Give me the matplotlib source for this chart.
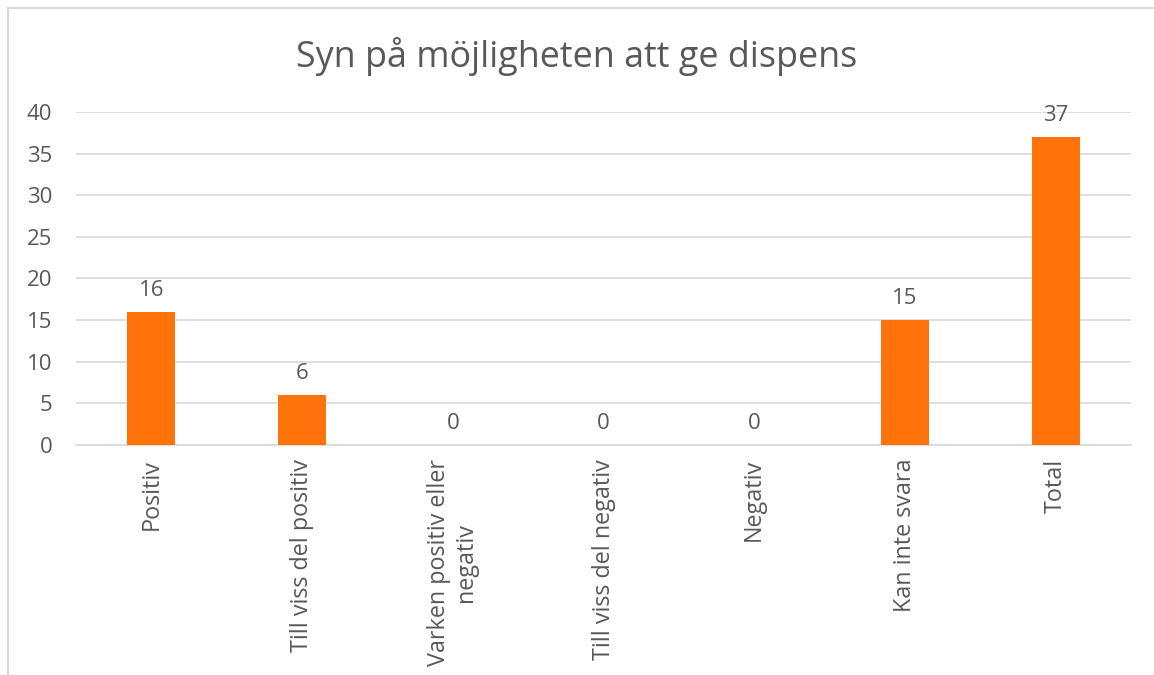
import matplotlib.pyplot as plt
from matplotlib.lines import Line2D

# data
kategorier = ['Positiv', 'Till viss del positiv', 'Varken positiv eller\nnegativ',
              'Till viss del negativ', 'Negativ', 'Kan inte svara', 'Total']
antal = [16, 6, 0, 0, 0, 15, 37]
y_ticks = [0, 5, 10, 15, 20, 25, 30, 35, 40]

plt.rcParams['font.family'] = ['Open Sans', 'DejaVu Sans']
textfarg = '#595959'

W, H = 1154, 675
fig = plt.figure(figsize=(W / 100, H / 100), dpi=100)
ax = fig.add_axes([76 / W, 1 - 445 / H, (1131 - 76) / W, (445 - 112) / H])

# ram: bara övre och vänstra kanten syns
fig.lines.append(Line2D([8 / W, 1.0], [1 - 8 / H, 1 - 8 / H], transform=fig.transFigure,
                        color='#D9D9D9', linewidth=1.5))
fig.lines.append(Line2D([8 / W, 8 / W], [1 - 8 / H, 1 / H], transform=fig.transFigure,
                        color='#D9D9D9', linewidth=1.5))

x = list(range(len(kategorier)))
ax.bar(x, antal, width=0.32, color='#FF730A', zorder=3)
for xi, v in zip(x, antal):
    ax.text(xi, v + 1.3, str(v), ha='center', va='bottom', fontsize=16, color=textfarg)

ax.set_xlim(-0.5, len(kategorier) - 0.5)
ax.set_ylim(0, 40)
ax.set_yticks(y_ticks)
ax.yaxis.grid(True, color='#D9D9D9', linewidth=1.2, zorder=0)
ax.tick_params(axis='y', length=0, labelsize=16, labelcolor=textfarg, pad=17)
ax.tick_params(axis='x', length=0, labelsize=16.8, labelcolor=textfarg, pad=10)
ax.set_xticks(x)
ax.set_xticklabels(kategorier, rotation=90, ha='center', va='top', multialignment='center',
                   linespacing=1.15)
for s in ['top', 'right', 'left']:
    ax.spines[s].set_visible(False)
ax.spines['bottom'].set_color('#D9D9D9')
ax.spines['bottom'].set_linewidth(1.2)

fig.text(0.5, 1 - 57 / H, 'Syn på möjligheten att ge dispens', ha='center', va='center',
         fontsize=25.8, color=textfarg)

fig.savefig('out.png', dpi=100)
